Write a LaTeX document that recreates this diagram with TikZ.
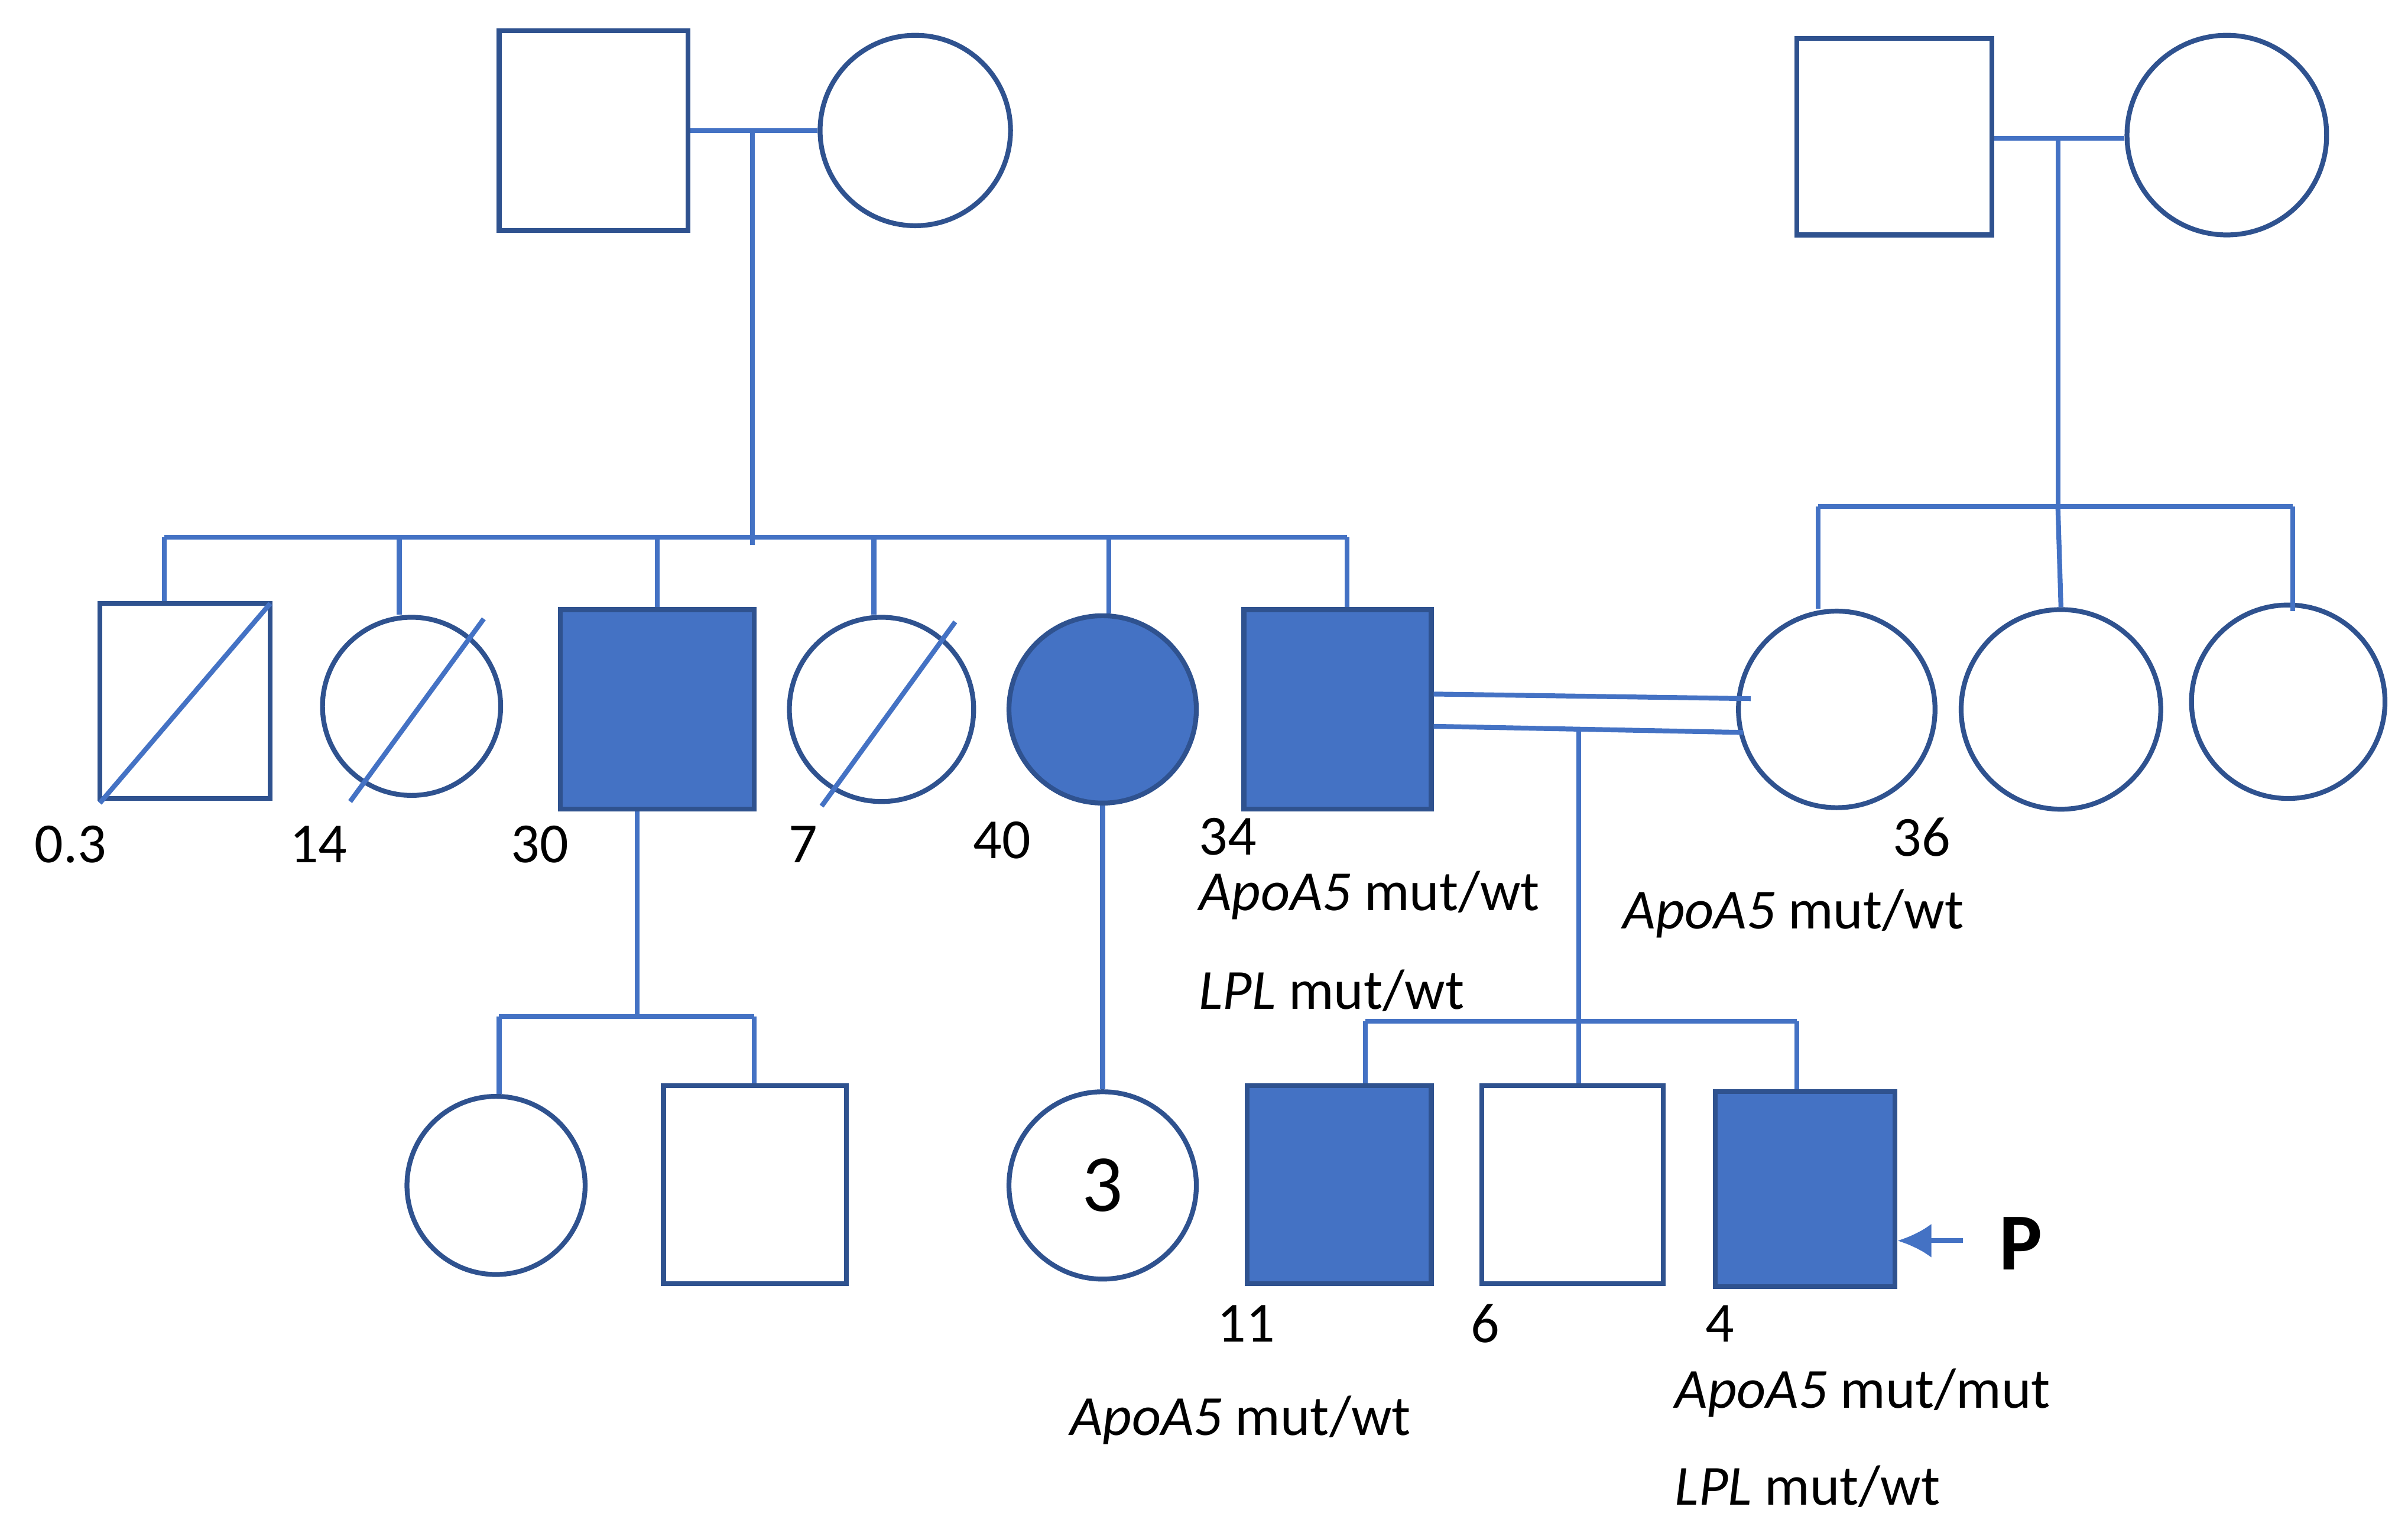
\documentclass[tikz,border=0pt]{standalone}
\usepackage{fontspec}
\setmainfont{Carlito}
\usetikzlibrary{arrows.meta}
\begin{document}
\begin{tikzpicture}[x=1cm,y=-1cm,
  ln/.style={draw=lc,line width=0.9pt},
  sq/.style={rectangle,draw=oc,line width=0.9pt,inner sep=0pt},
  ci/.style={circle,draw=oc,line width=0.9pt,inner sep=0pt},
  aff/.style={fill=fc},
  lab/.style={font=\fontsize{10.5}{12}\selectfont,inner sep=0pt,anchor=west}]
\definecolor{lc}{HTML}{4472C4}
\definecolor{oc}{HTML}{2F528F}
\definecolor{fc}{HTML}{4472C4}
\useasboundingbox (0,0) rectangle (15.68,10);
% generation I
\node[sq,minimum width=1.23cm,minimum height=1.30cm] (gf1) at (3.865,0.85) {};
\node[ci,minimum size=1.24cm] (gm1) at (5.96,0.85) {};
\node[sq,minimum width=1.27cm,minimum height=1.28cm] (gf2) at (12.335,0.89) {};
\node[ci,minimum size=1.30cm] (gm2) at (14.50,0.88) {};
\draw[ln] (gf1.east) -- (gm1.west);
\coordinate (d1) at (4.90,0.85);
\coordinate (d1b) at (4.90,3.55);
\draw[ln] (d1) -- (d1b);
\draw[ln] (gf2.east |- 13.40,0.90) -- (gm2.west |- 13.40,0.90);
\coordinate (d2) at (13.40,0.90);
\coordinate (d2b) at (13.40,3.30);
\draw[ln] (d2) -- (d2b);
% generation II
\node[sq,minimum width=1.11cm,minimum height=1.27cm] (a1) at (1.205,4.565) {};
\node[ci,minimum size=1.16cm] (a2) at (2.68,4.60) {};
\node[sq,aff,minimum width=1.26cm,minimum height=1.30cm] (a3) at (4.28,4.62) {};
\node[ci,minimum size=1.20cm] (a4) at (5.74,4.62) {};
\node[ci,aff,minimum size=1.22cm] (a5) at (7.18,4.62) {};
\node[sq,aff,minimum width=1.22cm,minimum height=1.30cm] (a6) at (8.71,4.62) {};
\node[ci,minimum size=1.28cm] (b1) at (11.96,4.62) {};
\node[ci,minimum size=1.30cm] (b2) at (13.42,4.62) {};
\node[ci,minimum size=1.26cm] (b3) at (14.90,4.57) {};
\draw[lc,line width=0.9pt] (0.65,5.23) -- (1.76,3.93);
\draw[lc,line width=0.9pt] (2.28,5.22) -- (3.15,4.03);
\draw[lc,line width=0.9pt] (5.35,5.25) -- (6.22,4.05);
% sibship II left
\coordinate (s1l) at (1.07,3.50);
\coordinate (s1r) at (8.77,3.50);
\draw[ln] (s1l) -- (s1r);
\foreach \n/\x in {a1/1.07,a2/2.60,a3/4.28,a4/5.69,a5/7.22,a6/8.77}
  \draw[ln] (\x,3.50) -- (\n.north -| \x,0);
% sibship II right
\draw[ln] (11.84,3.30) -- (14.93,3.30);
\draw[ln] (11.84,3.30) -- (b1.north -| 11.84,0);
\draw[ln] (13.40,3.30) -- (b2.north);
\draw[ln] (14.93,3.30) -- (14.93,3.98);
% consanguineous marriage
\draw[ln] (a6.east |- 0,4.52) -- (11.40,4.55);
\draw[ln] (a6.east |- 0,4.73) -- (11.35,4.77);
\coordinate (d3) at (10.28,4.76);
\draw[ln] (d3) -- (10.28,6.65);
% generation III
\node[ci,minimum size=1.16cm] (c1) at (3.23,7.72) {};
\node[sq,minimum width=1.19cm,minimum height=1.29cm] (c2) at (4.915,7.715) {};
\node[ci,minimum size=1.22cm] (c3) at (7.18,7.72) {\fontsize{15}{18}\selectfont 3};
\node[sq,aff,minimum width=1.20cm,minimum height=1.29cm] (c4) at (8.72,7.715) {};
\node[sq,minimum width=1.18cm,minimum height=1.29cm] (c5) at (10.24,7.715) {};
\node[sq,aff,minimum width=1.17cm,minimum height=1.27cm] (c6) at (11.755,7.745) {};
% sibships III
\draw[ln] (a3.south -| 4.15,0) -- (4.15,6.62);
\draw[ln] (3.25,6.62) -- (4.91,6.62);
\draw[ln] (3.25,6.62) -- (c1.north -| 3.25,0);
\draw[ln] (4.91,6.62) -- (c2.north -| 4.91,0);
\draw[ln] (a5.south) -- (c3.north);
\draw[ln] (8.89,6.65) -- (11.70,6.65);
\draw[ln] (8.89,6.65) -- (c4.north -| 8.89,0);
\draw[ln] (10.28,6.65) -- (c5.north -| 10.28,0);
\draw[ln] (11.70,6.65) -- (c6.north -| 11.70,0);
% proband arrow
\node[font=\fontsize{15}{18}\selectfont\bfseries,inner sep=0pt] (P) at (13.16,8.10) {P};
\draw[lc,line width=0.9pt,-{Latex[length=2.2mm,width=2.2mm]}] (12.78,8.08) -- (c6.east |- 0,8.08);
% labels
\node[lab] at (0.22,5.50) {0.3};
\node[lab] at (1.88,5.50) {14};
\node[lab] at (3.32,5.50) {30};
\node[lab] at (5.13,5.50) {7};
\node[lab] at (6.33,5.47) {40};
\node[lab] at (7.80,5.45) {34};
\node[lab] at (7.80,5.83) {\textit{ApoA5} mut/wt};
\node[lab] at (7.80,6.45) {\textit{LPL} mut/wt};
\node[lab] at (12.32,5.45) {36};
\node[lab] at (10.56,5.95) {\textit{ApoA5} mut/wt};
\node[lab] at (7.92,8.62) {11};
\node[lab] at (9.57,8.62) {6};
\node[lab] at (11.10,8.62) {4};
\node[lab] at (6.96,9.25) {\textit{ApoA5} mut/wt};
\node[lab] at (10.90,9.07) {\textit{ApoA5} mut/mut};
\node[lab] at (10.90,9.68) {\textit{LPL} mut/wt};
\end{tikzpicture}
\end{document}
